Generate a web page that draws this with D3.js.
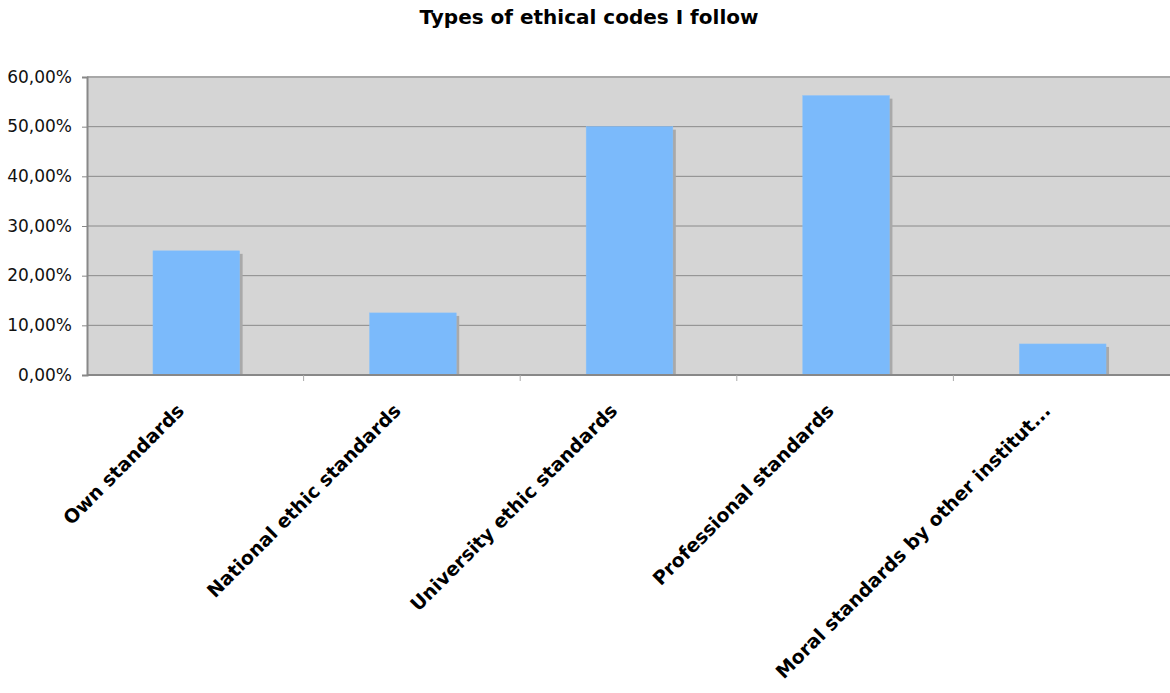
<!DOCTYPE html>
<html>
<head>
<meta charset="utf-8">
<script src="https://cdn.jsdelivr.net/npm/d3@7"></script>
<style>
  html, body { margin: 0; padding: 0; background: #fff; }
  svg { display: block; }
</style>
</head>
<body>
<svg id="chart" width="1170" height="693"></svg>
<script>
// Share of respondents following each type of ethical code
const categories = [
  "Own standards",
  "National ethic standards",
  "University ethic standards",
  "Professional standards",
  "Moral standards by other institut..."
];
const values = [0.25, 0.125, 0.5, 0.5625, 0.0625];
const yTicks = [0, 0.1, 0.2, 0.3, 0.4, 0.5, 0.6];
const chartTitle = "Types of ethical codes I follow";

const svg = d3.select("#chart");
const W = 1170, H = 693;
const m = { top: 77, right: 0, bottom: 318, left: 87 };
const iw = W - m.left - m.right, ih = H - m.top - m.bottom;
const FONT = "DejaVu Sans, Verdana, sans-serif";

const fmt = v => d3.format(".2f")(v * 100).replace(".", ",") + "%";

const x = d3.scaleBand().domain(categories).range([0, iw]).paddingInner(0).paddingOuter(0);
const y = d3.scaleLinear().domain([0, 0.6]).range([ih, 0]);

svg.append("text")
  .attr("x", 589).attr("y", 24)
  .attr("text-anchor", "middle")
  .attr("font-family", FONT)
  .attr("font-weight", "bold")
  .attr("font-size", 20)
  .attr("fill", "#000")
  .text(chartTitle);

const g = svg.append("g").attr("transform", `translate(${m.left},${m.top})`);

// plot background
g.append("rect").attr("x", 0).attr("y", 0).attr("width", iw).attr("height", ih)
  .attr("fill", "#d5d5d5");

// horizontal gridlines
g.selectAll("line.grid").data(yTicks.slice(1)).join("line")
  .attr("class", "grid")
  .attr("x1", 0).attr("x2", iw)
  .attr("y1", d => y(d)).attr("y2", d => y(d))
  .attr("stroke", d => d === 0.6 ? "#a8a8a8" : "#8a8a8a")
  .attr("stroke-width", d => d === 0.6 ? 2 : 1);

// bars with a soft drop shadow
const bw = x.bandwidth() * 0.4;
const bx = d => x(d) + (x.bandwidth() - bw) / 2 + 1;
const data = categories.map((c, i) => ({ c, v: values[i] }));

g.selectAll("rect.shadow").data(data).join("rect")
  .attr("class", "shadow")
  .attr("x", d => bx(d.c) + 3)
  .attr("y", d => y(d.v) + 3)
  .attr("width", bw)
  .attr("height", d => ih - y(d.v) - 3)
  .attr("fill", "#a9a9a9");

g.selectAll("rect.bar").data(data).join("rect")
  .attr("class", "bar")
  .attr("x", d => bx(d.c))
  .attr("y", d => y(d.v))
  .attr("width", bw)
  .attr("height", d => ih - y(d.v))
  .attr("fill", "#7bbafb")
  .attr("stroke", "#86c0fb")
  .attr("stroke-width", 0.5);

// y axis
const yAxis = g.append("g")
  .call(d3.axisLeft(y).tickValues(yTicks).tickFormat(fmt).tickSize(5).tickPadding(10));
yAxis.select(".domain").attr("stroke", "#888").attr("stroke-width", 2);
yAxis.selectAll(".tick line").attr("stroke", "#888");
yAxis.selectAll(".tick text")
  .attr("font-family", FONT)
  .attr("font-size", 17)
  .attr("dy", "0.3em")
  .attr("fill", "#111");

// x axis: ticks at category boundaries
const xAxisG = g.append("g").attr("transform", `translate(0,${ih})`);
xAxisG.append("line").attr("x1", 0).attr("x2", iw).attr("y1", 0).attr("y2", 0)
  .attr("stroke", "#888").attr("stroke-width", 2);
const bounds = categories.map(c => x(c)).concat([iw]);
xAxisG.selectAll("line.tk").data(bounds.slice(1, -1)).join("line")
  .attr("class", "tk")
  .attr("x1", d => d).attr("x2", d => d).attr("y1", 0).attr("y2", 6)
  .attr("stroke", "#aaa");

xAxisG.selectAll("text.lbl").data(categories).join("text")
  .attr("class", "lbl")
  .attr("text-anchor", "end")
  .attr("font-family", FONT)
  .attr("font-weight", "bold")
  .attr("font-size", 19)
  .attr("fill", "#000")
  .attr("transform", c => `translate(${x(c) + x.bandwidth() / 2 - 10},${37}) rotate(-45)`)
  .text(c => c);
</script>
</body>
</html>
